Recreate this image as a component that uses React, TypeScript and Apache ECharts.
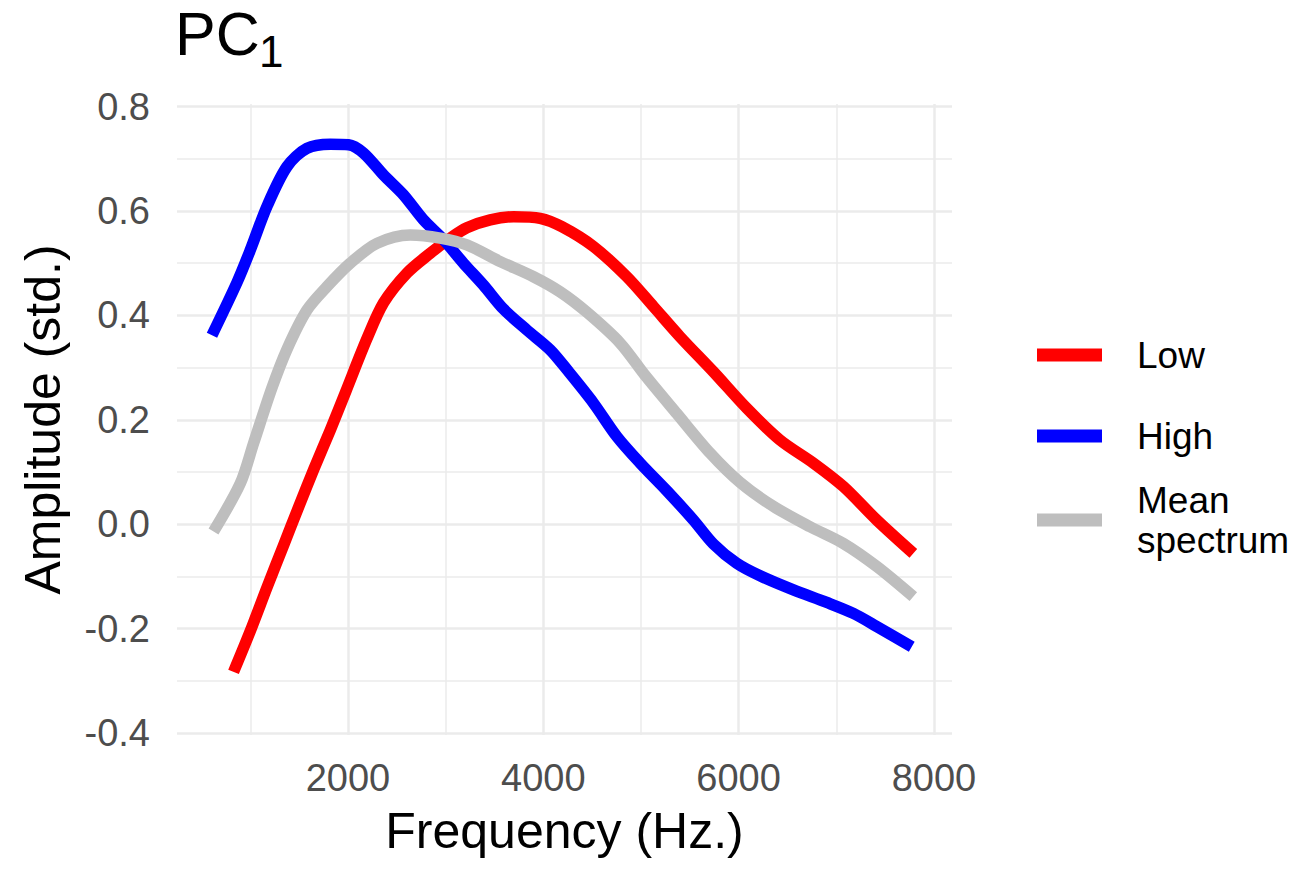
import React, { useEffect, useRef } from "react";
import * as echarts from "echarts";

// ---- Data ----
const lowFreq = [829, 1000, 1174, 1342, 1500, 1650, 1819, 1980, 2194, 2365, 2604, 2843, 3047, 3218, 3457, 3696, 3968, 4190, 4514, 4856, 5128, 5401, 5742, 6084, 6425, 6766, 7073, 7414, 7789];
const lowAmp = [-0.283, -0.205, -0.12, -0.04, 0.035, 0.105, 0.18, 0.255, 0.355, 0.424, 0.481, 0.519, 0.548, 0.568, 0.583, 0.589, 0.586, 0.57, 0.532, 0.474, 0.417, 0.359, 0.292, 0.222, 0.161, 0.117, 0.072, 0.008, -0.056];

const highFreq = [608, 864, 1000, 1174, 1376, 1580, 1819, 2006, 2160, 2365, 2569, 2774, 2979, 3183, 3388, 3593, 3832, 4071, 4260, 4514, 4753, 4992, 5265, 5537, 5742, 5981, 6220, 6561, 6903, 7175, 7414, 7773];
const highAmp = [0.362, 0.463, 0.525, 0.61, 0.685, 0.72, 0.728, 0.727, 0.711, 0.669, 0.631, 0.583, 0.545, 0.5, 0.458, 0.412, 0.372, 0.334, 0.292, 0.232, 0.168, 0.117, 0.064, 0.008, -0.038, -0.075, -0.099, -0.126, -0.15, -0.171, -0.196, -0.235];

const meanFreq = [624, 898, 1034, 1220, 1376, 1580, 1785, 2024, 2297, 2638, 2945, 3218, 3560, 3900, 4173, 4446, 4787, 5043, 5367, 5709, 6015, 6357, 6732, 7073, 7414, 7789];
const meanAmp = [-0.014, 0.078, 0.155, 0.26, 0.335, 0.41, 0.455, 0.5, 0.538, 0.554, 0.548, 0.535, 0.503, 0.474, 0.445, 0.406, 0.347, 0.285, 0.212, 0.136, 0.08, 0.034, -0.005, -0.037, -0.081, -0.139];

const seriesNames = ["Low", "High", "Mean spectrum"];
const seriesColors = ["#FF0000", "#0000FF", "#BEBEBE"];

const xMajorTicks = [2000, 4000, 6000, 8000];
const xMinorTicks = [1000, 3000, 5000, 7000];
const yMajorTicks = [-0.4, -0.2, 0.0, 0.2, 0.4, 0.6, 0.8];
const yMinorTicks = [-0.3, -0.1, 0.1, 0.3, 0.5, 0.7];

const titleMain = "PC";
const titleSub = "1";
const xTitle = "Frequency (Hz.)";
const yTitle = "Amplitude (std.)";

const FONT = "'Liberation Sans', Arial, Helvetica, sans-serif";
const GRID_COLOR = "#EBEBEB";

function pairs(xs: number[], ys: number[]) {
  return xs.map((x, i) => [x, ys[i]]);
}

export default function App() {
  const ref = useRef<HTMLDivElement>(null);

  useEffect(() => {
    if (!ref.current) return;
    const chart = echarts.init(ref.current, null, { renderer: "svg" });

    const xRange = { min: 250, max: 8185 };
    const yRange = { min: -0.404, max: 0.805 };

    const lineSeries = [
      pairs(lowFreq, lowAmp),
      pairs(highFreq, highAmp),
      pairs(meanFreq, meanAmp),
    ].map((data, i) => ({
      type: "line",
      name: seriesNames[i],
      data,
      xAxisIndex: 0,
      yAxisIndex: 0,
      showSymbol: false,
      symbol: "none",
      smooth: 0.3,
      color: seriesColors[i],
      lineStyle: { width: 11.5, color: seriesColors[i], cap: "butt", join: "round" },
      emphasis: { disabled: true },
      z: 3,
    }));

    const legendText = {
      fontSize: 37,
      lineHeight: 37,
      color: "#000000",
      fontFamily: FONT,
      padding: [0, 0, 0, 30],
    };

    chart.setOption({
      animation: false,
      backgroundColor: "#FFFFFF",
      grid: { left: 177, right: 357, top: 104, bottom: 134, containLabel: false },
      xAxis: [
        {
          type: "value",
          min: xRange.min,
          max: xRange.max,
          position: "bottom",
          name: xTitle,
          nameLocation: "middle",
          nameGap: 71,
          nameTextStyle: { fontSize: 50, color: "#000000", fontFamily: FONT },
          axisLine: { show: false },
          axisTick: { show: false, customValues: xMajorTicks },
          axisLabel: {
            customValues: xMajorTicks,
            fontSize: 38,
            color: "#4D4D4D",
            fontFamily: FONT,
            margin: 24,
            formatter: (v: number) => String(v),
          },
          splitLine: { show: true, lineStyle: { color: GRID_COLOR, width: 2.5 } },
        },
        {
          type: "value",
          min: xRange.min,
          max: xRange.max,
          position: "top",
          axisLine: { show: false },
          axisTick: { show: false, customValues: xMinorTicks },
          axisLabel: { show: false, customValues: xMinorTicks },
          splitLine: { show: true, lineStyle: { color: GRID_COLOR, width: 1.5 } },
        },
      ],
      yAxis: [
        {
          type: "value",
          min: yRange.min,
          max: yRange.max,
          position: "left",
          name: yTitle,
          nameLocation: "middle",
          nameGap: 109.5,
          nameTextStyle: { fontSize: 50, color: "#000000", fontFamily: FONT },
          axisLine: { show: false },
          axisTick: { show: false, customValues: yMajorTicks },
          axisLabel: {
            customValues: yMajorTicks,
            fontSize: 38,
            color: "#4D4D4D",
            fontFamily: FONT,
            margin: 27,
            formatter: (v: number) => v.toFixed(1),
          },
          splitLine: { show: true, lineStyle: { color: GRID_COLOR, width: 2.5 } },
        },
        {
          type: "value",
          min: yRange.min,
          max: yRange.max,
          position: "right",
          axisLine: { show: false },
          axisTick: { show: false, customValues: yMinorTicks },
          axisLabel: { show: false, customValues: yMinorTicks },
          splitLine: { show: true, lineStyle: { color: GRID_COLOR, width: 1.5 } },
        },
      ],
      legend: [
        {
          data: [seriesNames[0], seriesNames[1]],
          orient: "vertical",
          left: 1037,
          top: 336.5,
          padding: 0,
          itemWidth: 65,
          itemHeight: 13,
          itemGap: 44,
          icon: "rect",
          selectedMode: false,
          textStyle: legendText,
        },
        {
          data: [seriesNames[2]],
          orient: "vertical",
          left: 1037,
          top: 480,
          padding: 0,
          itemWidth: 65,
          itemHeight: 13,
          icon: "rect",
          selectedMode: false,
          formatter: (name: string) => name.replace(" ", "\n"),
          textStyle: { ...legendText, lineHeight: 40 },
        },
      ],
      graphic: [
        {
          type: "text",
          x: 175,
          y: 33.5,
          style: {
            text: titleMain,
            fontSize: 61,
            fontFamily: FONT,
            fill: "#000000",
            align: "left",
            verticalAlign: "middle",
          },
        },
        {
          type: "text",
          x: 259,
          y: 51,
          style: {
            text: titleSub,
            fontSize: 44,
            fontFamily: FONT,
            fill: "#000000",
            align: "left",
            verticalAlign: "middle",
          },
        },
      ],
      series: lineSeries,
    });

    return () => {
      chart.dispose();
    };
  }, []);

  return (
    <div
      ref={ref}
      style={{ position: "fixed", left: 0, top: 0, width: 1309, height: 869, background: "#FFFFFF" }}
    />
  );
}
